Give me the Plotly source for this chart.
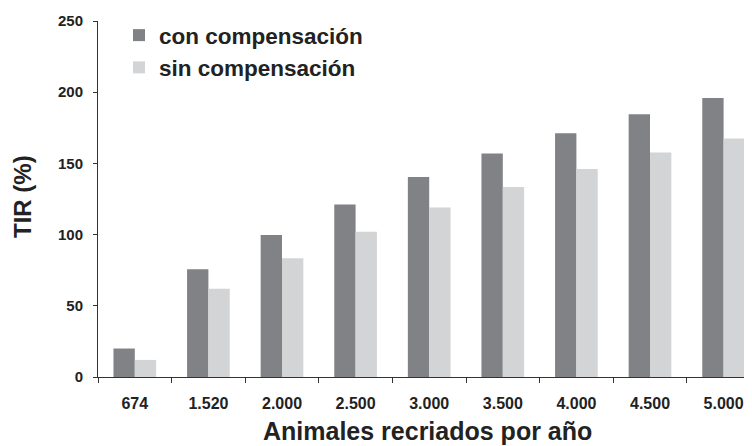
import plotly.graph_objects as go

categories = ["674", "1.520", "2.000", "2.500", "3.000", "3.500", "4.000", "4.500", "5.000"]
con_compensacion = [20, 75.7, 99.7, 121.2, 140.4, 157, 171.2, 184.5, 196]
sin_compensacion = [12, 62, 83.4, 102, 119.1, 133.4, 146, 157.7, 167.5]
y_ticks = [0, 50, 100, 150, 200, 250]

FONT = "Arial, 'Liberation Sans', sans-serif"
TXT = "#222222"

fig = go.Figure()
fig.add_trace(go.Bar(x=categories, y=con_compensacion, name="con compensación",
                     marker=dict(color="#818286", line=dict(width=0)), legendgroup="a"))
fig.add_trace(go.Bar(x=categories, y=sin_compensacion, name="sin compensación",
                     marker=dict(color="#d3d4d6", line=dict(width=0)), legendgroup="b"))

# page body has an 8px default margin
OFF = 8
W, H = 752 - OFF, 446 - OFF
# target page-pixel geometry of the plot area
plot_left, plot_top, plot_bottom = 98, 21, 377
ml = plot_left - OFF
mt = plot_top - OFF
mb = (H + OFF) - plot_bottom
mr = 0
cat_px = 73.6
plot_w = W - ml - mr
plot_h = H - mt - mb
x_end = -0.5 + plot_w / cat_px

def px_x(page_x):
    return (page_x - plot_left) / plot_w

def px_y(page_y):
    return (plot_bottom - page_y) / plot_h

fig.update_layout(
    width=W, height=H,
    margin=dict(l=ml, r=mr, t=mt, b=mb, pad=0),
    paper_bgcolor="white", plot_bgcolor="white",
    barmode="group", bargap=0.42, bargroupgap=0,
    font=dict(family=FONT, color=TXT, weight="bold"),
    showlegend=True,
    legend=dict(x=px_x(119), y=px_y(14), xanchor="left", yanchor="top",
                font=dict(size=22.5, family=FONT, color=TXT, weight="bold"),
                tracegroupgap=0, bgcolor="rgba(0,0,0,0)"),
    xaxis=dict(range=[-0.5, x_end], showline=True, linecolor="#333333", linewidth=1,
               ticks="outside", ticklen=5, tickcolor="#333333", tickson="boundaries",
               tickfont=dict(size=16, family=FONT, color=TXT, weight="bold"),
               ticklabelstandoff=12, showgrid=False, zeroline=False, fixedrange=True),
    yaxis=dict(range=[0, 250], tickvals=y_ticks, showline=True, linecolor="#333333", linewidth=1,
               ticks="outside", ticklen=4, tickcolor="#333333",
               tickfont=dict(size=15, family=FONT, color=TXT, weight="bold"),
               ticklabelstandoff=7, showgrid=False, zeroline=False, fixedrange=True),
    annotations=[
        dict(text="Animales recriados por año", xref="paper", yref="paper",
             x=px_x(427), y=px_y(431), xanchor="center", yanchor="middle",
             showarrow=False, font=dict(size=25, family=FONT, color=TXT, weight="bold")),
        dict(text="TIR (%)", xref="paper", yref="paper", textangle=-90,
             x=px_x(22), y=px_y(197), xanchor="center", yanchor="middle",
             showarrow=False, font=dict(size=24, family=FONT, color=TXT, weight="bold")),
    ],
)

fig.write_html("out.html")
